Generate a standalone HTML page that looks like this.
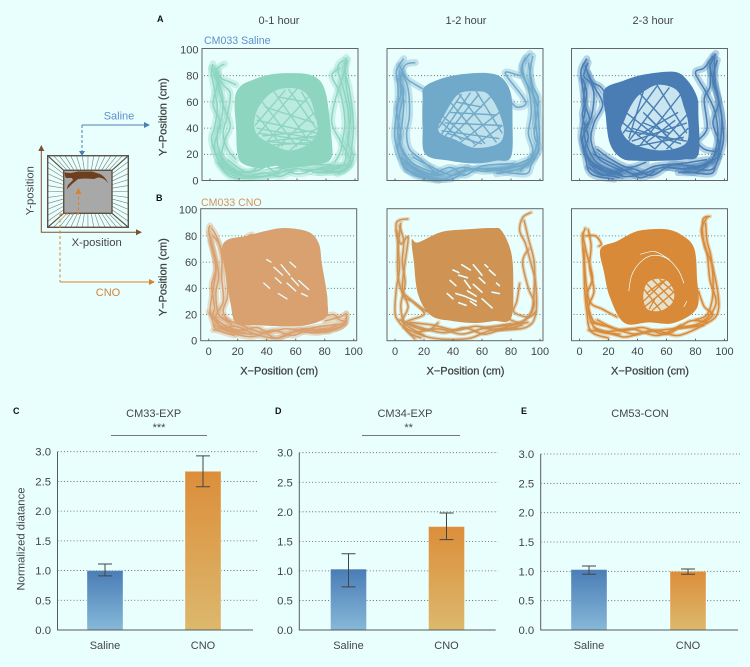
<!DOCTYPE html>
<html lang="en">
<head>
<meta charset="utf-8">
<title>CM033 locomotion traces and normalized distance</title>
<style>
html,body{margin:0;padding:0;background:#e9fffe;}
svg{display:block;}
text{font-family:"Liberation Sans",sans-serif;fill:#454545;}
</style>
</head>
<body>
<svg id="fig" xmlns="http://www.w3.org/2000/svg" width="750" height="667" viewBox="0 0 750 667">
<defs>
<linearGradient id="gradSaline" x1="0" y1="0" x2="0" y2="1"><stop offset="0" stop-color="#4a7db5"/><stop offset="1" stop-color="#86b8d9"/></linearGradient>
<linearGradient id="gradCno" x1="0" y1="0" x2="0" y2="1"><stop offset="0" stop-color="#dc8e3a"/><stop offset="1" stop-color="#dcb86d"/></linearGradient>
<filter id="soften" x="-5%" y="-5%" width="110%" height="110%"><feGaussianBlur stdDeviation="0.35"/></filter>
</defs>
<rect width="750" height="667" fill="#e9fffe"/>

<g font-weight="bold">
<text x="157" y="22" font-size="9" style="fill:#111">A</text>
<text x="156" y="201" font-size="9" style="fill:#111">B</text>
<text x="13" y="414" font-size="9" style="fill:#111">C</text>
<text x="275" y="414" font-size="9" style="fill:#111">D</text>
<text x="521" y="414" font-size="9" style="fill:#111">E</text>
</g>

<text x="279" y="24" font-size="11" text-anchor="middle">0-1 hour</text>
<text x="466" y="24" font-size="11" text-anchor="middle">1-2 hour</text>
<text x="653" y="24" font-size="11" text-anchor="middle">2-3 hour</text>
<text x="204" y="44" font-size="10.6" style="fill:#5c90c8">CM033 Saline</text>
<text x="201" y="206" font-size="10.6" style="fill:#d4935a">CM033 CNO</text>

<g id="schematic">
<rect x="63.7" y="170.3" width="48.3" height="43" fill="#a8a8a8"/>
<g id="spokes"></g>
<rect x="47.7" y="155.7" width="80.6" height="71.6" fill="none" stroke="#5d5345" stroke-width="1.4"/>
<rect x="63.7" y="170.3" width="48.3" height="43" fill="none" stroke="#5d5345" stroke-width="1.4"/>
<path fill="#6e3f1f" d="M64.5 172.5 L71 173 L78 171.5 L92 171.5 L100 174 C104 176 106 179 109 184 C105 179 102 177.5 98 177.5 L94 179 L85 178.5 L78 179 L72 184 L66.5 189.5 L68 185 L73 180 L72 178 L66 178 L65 176 Z"/>
<path d="M41.3 146 V232.3 H137" fill="none" stroke="#7a5230" stroke-width="1"/>
<path d="M41.3 145 l-3 6 h6 Z" fill="#7a5230"/>
<path d="M142 232.3 l-6 -3 v6 Z" fill="#7a5230"/>
<text transform="translate(33.5 190.7) rotate(-90)" font-size="11.3" text-anchor="middle">Y-position</text>
<text x="96.7" y="246" font-size="11.3" text-anchor="middle">X-position</text>
<path d="M82 125 H145" fill="none" stroke="#4a7fb0" stroke-width="1"/>
<path d="M150 125 l-6 -3 v6 Z" fill="#4a7fb0"/>
<path d="M82 125 V151" fill="none" stroke="#4a7fb0" stroke-width="1" stroke-dasharray="3 2"/>
<path d="M82 156 l-3 -5 h6 Z" fill="#4a7fb0"/>
<text x="119" y="119.5" font-size="11" text-anchor="middle" style="fill:#5c90c8">Saline</text>
<path d="M60 214 V282 M60 214 H78.5 V194" fill="none" stroke="#d9822b" stroke-width="1" stroke-dasharray="3 2.5"/>
<path d="M78.5 188 l-3 6 h6 Z" fill="#d9822b"/>
<path d="M60 282 H150" fill="none" stroke="#d9822b" stroke-width="1"/>
<path d="M155 282 l-6 -3 v6 Z" fill="#d9822b"/>
<text x="108" y="296" font-size="11" text-anchor="middle" style="fill:#d4823a">CNO</text>
</g>

<g id="traces"></g>
<g id="bars"></g>
</svg>

<script>
/* ---------- trajectory panels: values in cm ---------- */
const xTickLabels = [0, 20, 40, 60, 80, 100];
const yTickLabels = [0, 20, 40, 60, 80, 100];
const gridValues = [20, 40, 60, 80];

const a1Ring = [[17,62],[21,72],[30,77],[42,81],[55,82],[68,81],[76,76],[80,66],[82,52],[84,30],[84,18],[78,13],[60,10],[40,9],[24,12],[19,20],[18,40]];
const a1Hole = [[31,48],[36,60],[46,69],[60,70],[68,64],[72,52],[74,38],[68,28],[55,23],[42,28],[32,36]];
const a1Gaps = [[[36,9],[42,10],[47,11]],[[58,6],[70,6]]];
const a1Cross = [[[31,42],[52,69]],[[32,34],[60,70]],[[38,28],[68,64]],[[46,25],[72,52]],[[55,23],[74,40]],[[32,50],[50,26]],[[36,60],[60,26]],[[44,68],[68,30]],[[54,70],[73,40]],[[63,68],[74,46]],[[32,40],[72,32]],[[32,46],[74,36]],[[34,36],[70,30]],[[38,56],[72,44]],[[40,30],[74,34]],[[35,30],[72,27]],[[42,27],[70,29]],[[36,34],[72,38]],[[46,64],[66,60]]];
const a1Strands = [
 [[2,89],[1,82],[3,70],[5,55],[3,40],[1,32],[4,20],[10,8],[18,3]],
 [[10,89],[4,84],[7,72],[9,60],[8,48],[5,36],[6,24],[12,12],[22,5]],
 [[4,80],[10,72],[14,66],[12,50],[9,36],[12,24],[18,16]],
 [[3,86],[8,78],[12,76],[18,73]],
 [[6,84],[6,70],[10,55],[14,42],[10,30],[8,16],[16,8]],
 [[1,86],[5,74],[2,58],[7,44],[3,26],[8,12],[20,4]],
 [[94,94],[93,84],[96,70],[98,55],[99,41],[98,28],[96,14],[90,7],[75,6]],
 [[92,92],[88,86],[92,70],[95,55],[96,38],[94,24],[92,12],[80,9],[65,8]],
 [[90,86],[84,80],[90,66],[93,46],[92,34],[90,22],[86,14]],
 [[95,92],[90,74],[86,60],[84,44],[90,30],[95,20],[97,12],[88,5]],
 [[93,90],[94,72],[97,50],[95,30],[99,18],[92,7],[78,8]],
 [[8,14],[20,5],[35,3],[48,6],[60,9],[75,6],[90,10]],
 [[6,20],[16,8],[30,7],[45,12],[60,5],[78,10],[96,12]],
 [[5,14],[14,3],[28,2],[42,4],[52,10],[66,12],[84,12]],
 [[10,10],[24,3],[38,6],[48,3],[58,8]],
 [[12,16],[26,6],[36,12],[46,5]]
];

const a2Ring = [[19,62],[20,71],[30,77],[45,81],[64,82],[74,78],[80,66],[81,44],[80,18],[70,15],[55,13],[38,15],[21,20],[19,40]];
const a2Hole = [[30,38],[35,52],[44,66],[56,68],[64,66],[71,54],[75,38],[71,28],[55,25],[42,31]];
const a2Gaps = [];
const a2Cross = [[[30,40],[46,66]],[[32,35],[52,67]],[[34,33],[58,66]],[[38,32],[66,64]],[[45,29],[72,52]],[[54,26],[74,42]],[[30,46],[46,31]],[[32,50],[55,28]],[[38,60],[62,28]],[[44,66],[70,29]],[[56,68],[74,36]],[[32,38],[72,32]],[[34,44],[74,42]],[[38,52],[70,50]],[[36,36],[60,28]],[[42,60],[60,56]]];
const a2Strands = [
 [[6,93],[1,84],[2,72],[2,59],[0,42],[0,31],[4,16],[8,8],[22,2]],
 [[14,90],[7,88],[4,76],[6,60],[5,44],[3,30],[7,18],[14,8],[28,1]],
 [[3,88],[8,78],[13,74],[19,70]],
 [[5,82],[9,70],[10,50],[8,36],[10,24],[18,16],[28,6]],
 [[2,78],[6,68],[3,50],[2,36],[6,22],[14,12],[32,4]],
 [[3,84],[4,66],[1,55],[4,34],[2,22],[12,5],[30,0]],
 [[93,97],[88,88],[90,76],[96,64],[99,50],[99,25],[94,12],[90,5],[72,7]],
 [[95,95],[93,80],[96,62],[97,44],[98,28],[92,14],[80,10],[62,9]],
 [[90,94],[87,84],[92,70],[94,52],[92,36],[95,22],[88,10],[70,5]],
 [[86,80],[76,82],[88,64],[90,58],[84,56],[80,60]],
 [[92,90],[95,72],[99,61],[96,36],[99,22],[86,7]],
 [[6,14],[18,6],[32,1],[44,6],[56,9],[72,8],[92,13]],
 [[4,18],[14,9],[30,4],[46,10],[62,7],[80,11],[96,18]],
 [[10,12],[24,5],[38,10],[48,4],[60,11],[82,13]],
 [[8,8],[24,2],[38,1],[46,5]],
 [[12,18],[26,10],[40,4],[50,10]]
];

const a3Ring = [[17,69],[30,76],[45,81],[65,83],[74,77],[81,64],[82,50],[82,20],[72,16],[56,15],[40,15],[29,17],[21,28],[18,50]];
const a3Hole = [[29,38],[31,46],[36,58],[42,66],[54,73],[67,69],[72,56],[75,43],[73,28],[56,23],[37,28]];
const a3Gaps = [];
const a3Cross = [[[30,36],[54,73]],[[34,32],[44,68]],[[34,30],[62,71]],[[42,27],[70,66]],[[52,24],[74,50]],[[60,24],[75,40]],[[30,44],[52,24]],[[32,52],[64,24]],[[42,66],[72,30]],[[54,72],[74,36]],[[36,30],[74,44]],[[38,26],[72,33]],[[32,38],[74,30]],[[40,34],[68,52]],[[46,29],[66,46]],[[44,44],[62,36]],[[46,50],[64,30]],[[44,52],[60,34]],[[36,40],[70,28]]];
const a3Strands = [
 [[5,93],[1,84],[2,72],[4,56],[2,42],[1,33],[4,18],[8,5],[24,1]],
 [[6,90],[3,80],[8,74],[10,64],[8,48],[3,38],[7,22],[14,12],[30,4]],
 [[4,88],[8,76],[14,72],[17,68]],
 [[2,78],[5,66],[2,50],[6,34],[4,22],[12,7],[28,2]],
 [[6,82],[10,72],[16,58],[10,44],[8,30],[14,16],[28,8]],
 [[4,74],[3,60],[7,46],[2,30],[10,12],[24,6]],
 [[94,97],[90,86],[94,72],[97,56],[99,40],[99,28],[94,12],[90,5],[72,7]],
 [[92,95],[86,86],[80,82],[88,66],[94,50],[95,30],[90,14],[76,9],[60,10]],
 [[95,92],[92,76],[96,60],[92,44],[96,26],[84,8],[68,6]],
 [[90,90],[90,72],[86,62],[88,40],[82,30],[86,24],[94,22]],
 [[93,94],[94,70],[98,50],[97,28],[92,9],[74,10]],
 [[6,16],[18,8],[32,3],[46,6],[58,10],[74,9],[92,14]],
 [[8,12],[22,5],[36,9],[50,4],[64,12],[82,11],[96,18]],
 [[10,20],[24,12],[38,5],[52,11],[70,13],[88,16]],
 [[6,10],[16,4],[30,8],[42,2],[52,7]],
 [[12,24],[22,16],[34,10],[46,14]]
];

const b1Ring = [[9,69],[13,77],[26,80],[40,84],[53,86],[69,83],[76,74],[78,59],[81,40],[82,29],[81,18],[68,12],[51,11],[32,12],[19,13],[15,29],[12,50]];
const b1Hole = [];
const b1Gaps = [[[45,56],[51,50]],[[62,46],[69,39]],[[40,62],[43,60]],[[50,58],[56,50]],[[54,44],[60,38]],[[64,36],[68,34]],[[46,48],[50,44]],[[57,48],[62,42]],[[38,44],[42,40]],[[48,36],[54,32]],[[56,60],[60,56]]];
const b1Cross = [];
const b1Strands = [
 [[1,88],[0,84],[3,70],[5,55],[3,39],[1,24],[3,14],[6,8],[18,4]],
 [[2,86],[6,78],[9,64],[9,48],[10,30],[5,18],[12,8],[30,5]],
 [[0,82],[4,66],[7,50],[5,36],[7,20],[14,14]],
 [[3,80],[8,72],[12,52],[13,34],[10,22],[16,12]],
 [[1,76],[5,56],[2,42],[4,26],[3,18],[10,10],[24,6]],
 [[0,22],[8,14],[20,8],[34,10],[46,2],[60,7],[76,6],[88,12]],
 [[4,12],[16,6],[30,3],[44,8],[58,4],[72,10],[94,13]],
 [[8,18],[22,12],[38,6],[52,9],[66,8],[82,7],[94,13],[95,21]],
 [[3,8],[18,11],[32,5],[48,2],[64,9],[83,7]],
 [[78,18],[86,20],[90,16],[94,14],[88,9],[76,9]],
 [[80,15],[90,18],[95,20],[92,11],[80,8]],
 [[27,80],[30,81],[26,77]]
];

const b2Ring = [[11.5,77],[16,75],[32,83],[50,85],[67,86],[73.5,84],[80,68],[81.6,45],[80,17],[68,15],[55,13.5],[40,15],[25,19],[16,35],[13,60]];
const b2Hole = [];
const b2Gaps = [[[44,29],[49,27]],[[54,43],[60,37]],[[60,32],[67,25]],[[67,37],[72,36]],[[46,58],[52,54]],[[65,54],[69,50]],[[38,46],[42,42]],[[48,46],[52,40]],[[42,36],[48,34]],[[58,48],[62,44]],[[40,54],[44,52]],[[52,30],[56,27]],[[62,58],[64,56]],[[70,44],[72,42]],[[36,36],[40,32]],[[54,58],[60,50]],[[48,34],[56,30]],[[44,50],[50,48]],[[50,38],[56,34]]];
const b2Cross = [];
const b2Strands = [
 [[9,93],[1,90],[2,73],[3,55],[1,40],[0,22],[3,14],[14,1]],
 [[3,88],[6,76],[5,60],[7,44],[4,26],[8,8],[18,2]],
 [[1,84],[4,74],[9,79],[7,60],[5,40],[9,26],[6,14],[20,4]],
 [[4,90],[2,70],[2,50],[6,34],[12,30],[22,22]],
 [[6,36],[14,28],[20,20],[8,14],[22,8],[30,14]],
 [[94,98],[88,94],[86,84],[90,74],[94,58],[97,44],[97,20],[90,10],[70,8]],
 [[89,92],[92,78],[96,60],[96,40],[94,22],[86,14],[76,18]],
 [[92,70],[88,60],[92,40],[96,28],[90,16],[78,12],[60,10]],
 [[86,44],[84,30],[82,22],[92,18],[97,22]],
 [[3,16],[18,10],[34,6],[48,10],[62,5],[78,11],[92,14]],
 [[6,10],[22,3],[36,1],[52,2],[66,8],[84,10]],
 [[10,14],[26,12],[42,8],[56,11],[72,8],[88,12]],
 [[14,6],[30,9],[46,5],[60,9],[80,13]]
];

const b3Ring = [[14.5,70],[26,76],[38,83],[49,85],[60,85],[70,81],[79,71],[81,48],[81,25],[65,13.5],[48,14],[31,13.5],[21,33],[17,52]];
const b3Hole = [[44,33],[46,43],[52,47],[60,46],[65,38],[64,29],[56,23],[47,24]];
const b3Gaps = [[[34,38],[36,50],[42,60],[50,65],[60,63],[68,54],[72,44]],[[42,66],[52,68],[62,62]],[[74,30],[72,26]]];
const b3Cross = [[[44,40],[56,23]],[[46,44],[62,25]],[[50,47],[65,30]],[[55,47],[66,36]],[[44,30],[60,47]],[[45,26],[65,44]],[[50,23],[66,38]],[[46,36],[58,46]],[[48,24],[52,32]]];
const b3Strands = [
 [[4,86],[2,78],[3,61],[3.5,40],[5,22],[8,7],[20,2]],
 [[6,85],[8,72],[7,56],[10,38],[6,24],[12,8],[28,5]],
 [[2,82],[5,66],[9,48],[5,34],[9,16],[16,12]],
 [[4,80],[11,80],[15,74],[13,72]],
 [[3,70],[4,50],[7,30],[16,24],[26,18]],
 [[90,95],[85,92],[86,73],[92,56],[96,25],[88,13.5],[70,10]],
 [[88,94],[84,84],[88,66],[90,46],[94,28],[84,14],[66,9]],
 [[87,90],[88,76],[91,62],[92,36],[88,20],[80,16]],
 [[82,38],[86,26],[92,20],[86,14]],
 [[8,14],[22,10],[38,5],[52,8],[68,4],[86,12]],
 [[10,10],[26,4],[33,3],[48,7],[64,9],[82,11]],
 [[12,16],[28,8],[44,10],[60,5],[76,15],[88,14]],
 [[6,8],[20,7],[36,9],[54,4],[70,12]]
];

/* ---------- bar charts: values read against the gridlines ---------- */
const barCategories = ['Saline', 'CNO'];
const barTickLabels = [0, 0.5, 1, 1.5, 2, 2.5, 3];
const cm33Means = [1.0, 2.67];
const cm33High = [1.11, 2.93];
const cm33Low = [0.91, 2.41];
const cm34Means = [1.03, 1.75];
const cm34High = [1.29, 1.98];
const cm34Low = [0.73, 1.53];
const cm53Means = [1.03, 1.0];
const cm53High = [1.09, 1.04];
const cm53Low = [0.95, 0.95];

/* ---------- helpers ---------- */
const NS = 'http://www.w3.org/2000/svg';
function mk(parent, tag, name, attrs) {
  const el = document.createElementNS(NS, tag);
  
  
  for (const k in attrs) el.setAttribute(k, attrs[k]);
  parent.appendChild(el);
  return el;
}
function mkText(parent, name, attrs, str) {
  const el = mk(parent, 'text', name, attrs);
  el.textContent = str;
  return el;
}
/* Catmull-Rom smoothing of hand-read points */
function curve(points, closed) {
  const n = points.length;
  const at = i => closed ? points[(i + n) % n] : points[Math.max(0, Math.min(n - 1, i))];
  let d = 'M' + points[0][0].toFixed(1) + ' ' + points[0][1].toFixed(1);
  const last = closed ? n : n - 1;
  for (let i = 0; i < last; i++) {
    const p0 = at(i - 1), p1 = at(i), p2 = at(i + 1), p3 = at(i + 2);
    const c1 = [p1[0] + (p2[0] - p0[0]) / 6, p1[1] + (p2[1] - p0[1]) / 6];
    const c2 = [p2[0] - (p3[0] - p1[0]) / 6, p2[1] - (p3[1] - p1[1]) / 6];
    d += 'C' + c1[0].toFixed(1) + ' ' + c1[1].toFixed(1) + ' ' + c2[0].toFixed(1) + ' ' + c2[1].toFixed(1) + ' ' + p2[0].toFixed(1) + ' ' + p2[1].toFixed(1);
  }
  return closed ? d + 'Z' : d;
}

/* ---------- arena schematic spokes ---------- */
(function () {
  const g = document.getElementById('spokes');
  const ox0 = 47.7, ox1 = 128.3, oy0 = 155.7, oy1 = 227.3;
  const ix0 = 63.7, ix1 = 112, iy0 = 170.3, iy1 = 213.3;
  const nH = 14, nV = 12;
  let d = '';
  for (let i = 1; i < nH; i++) {
    const t = i / nH;
    d += 'M' + (ix0 + (ix1 - ix0) * t) + ' ' + iy0 + 'L' + (ox0 + (ox1 - ox0) * t) + ' ' + oy0;
    d += 'M' + (ix0 + (ix1 - ix0) * t) + ' ' + iy1 + 'L' + (ox0 + (ox1 - ox0) * t) + ' ' + oy1;
  }
  for (let i = 1; i < nV; i++) {
    const t = i / nV;
    d += 'M' + ix0 + ' ' + (iy0 + (iy1 - iy0) * t) + 'L' + ox0 + ' ' + (oy0 + (oy1 - oy0) * t);
    d += 'M' + ix1 + ' ' + (iy0 + (iy1 - iy0) * t) + 'L' + ox1 + ' ' + (oy0 + (oy1 - oy0) * t);
  }
  mk(g, 'path', 'arena-spoke-lines', { d: d, stroke: '#7d7d76', 'stroke-width': 0.6, fill: 'none' });
  const c = 'M' + ox0 + ' ' + oy0 + 'L' + ix0 + ' ' + iy0 + 'M' + ox1 + ' ' + oy0 + 'L' + ix1 + ' ' + iy0 + 'M' + ox0 + ' ' + oy1 + 'L' + ix0 + ' ' + iy1 + 'M' + ox1 + ' ' + oy1 + 'L' + ix1 + ' ' + iy1;
  mk(g, 'path', 'arena-corner-lines', { d: c, stroke: '#5d5345', 'stroke-width': 1.2, fill: 'none' });
})();

/* ---------- trajectory panels ---------- */
function drawTrace(cfg) {
  const root = document.getElementById('traces');
  const g = mk(root, 'g', cfg.name, {});
  const sx = v => cfg.x0 + v * 1.45;
  const sy = v => cfg.y0 - v * 1.31;
  const left = sx(0) - 8, right = left + 156;
  const bottom = sy(0), top = bottom - 132;
  const map = pts => pts.map(p => [sx(p[0]), sy(p[1])]);

  gridValues.forEach(v => {
    mk(g, 'line', 'grid-line-y-' + v, { x1: left + 2, x2: right - 2, y1: sy(v), y2: sy(v), stroke: '#555', 'stroke-width': 0.8, 'stroke-dasharray': '1 2.2' });
  });

  const ink = mk(g, 'g', 'trajectory-ink', { filter: 'url(#soften)' });
  cfg.strands.forEach(s => {
    mk(ink, 'path', 'trajectory-band', { d: curve(map(s), false), fill: 'none', stroke: cfg.color, 'stroke-width': cfg.bandWidth, 'stroke-opacity': 0.34, 'stroke-linejoin': 'round', 'stroke-linecap': 'round' });
  });
  mk(ink, 'path', 'trajectory-ring', { d: curve(map(cfg.ring), true), fill: cfg.color });
  if (cfg.hole.length) {
    mk(ink, 'path', 'trajectory-center-gap', { d: curve(map(cfg.hole), true), fill: '#e9fffe' });
    mk(ink, 'path', 'trajectory-center-tone', { d: curve(map(cfg.hole), true), fill: cfg.color, 'fill-opacity': cfg.holeTone });
  }
  cfg.gaps.forEach(s => {
    mk(ink, 'path', 'trajectory-gap', { d: curve(map(s), false), fill: 'none', stroke: '#e9fffe', 'stroke-width': cfg.gapWidth, 'stroke-linecap': 'round' });
  });
  cfg.cross.forEach(s => {
    mk(ink, 'path', 'trajectory-center-crossing', { d: curve(map(s), false), fill: 'none', stroke: cfg.color, 'stroke-width': 1.4 });
  });
  cfg.strands.forEach(s => {
    mk(ink, 'path', 'trajectory-strand', { d: curve(map(s), false), fill: 'none', stroke: cfg.color, 'stroke-width': 1.5, 'stroke-linejoin': 'round' });
  });

  mk(g, 'rect', 'plot-frame', { x: left, y: top, width: right - left, height: bottom - top, fill: 'none', stroke: '#666', 'stroke-width': 1 });
  xTickLabels.forEach(v => {
    mk(g, 'line', 'x-tick-' + v, { x1: sx(v), x2: sx(v), y1: bottom, y2: bottom - 2, stroke: '#666', 'stroke-width': 1 });
  });
  if (cfg.showX) {
    xTickLabels.forEach(v => {
      mkText(g, 'x-tick-label-' + v, { x: sx(v), y: bottom + 14.5, 'font-size': 11, 'text-anchor': 'middle' }, String(v));
    });
    mkText(g, 'x-axis-title', { x: sx(0) + 70.5, y: bottom + 34, 'font-size': 11, 'text-anchor': 'middle', stroke: '#333', 'stroke-width': 0.25 }, 'X\u2212Position (cm)');
  }
  if (cfg.showY) {
    yTickLabels.forEach(v => {
      mkText(g, 'y-tick-label-' + v, { x: left - 3.5, y: sy(v) + 3.9, 'font-size': 11, 'text-anchor': 'end' }, String(v));
    });
    mkText(g, 'y-axis-title', { transform: 'translate(166.5 ' + (bottom - 63.5) + ') rotate(-90)', 'font-size': 11, 'text-anchor': 'middle', stroke: '#333', 'stroke-width': 0.25 }, 'Y\u2212Position (cm)');
  }
}
drawTrace({ name: 'trace-saline-0-1h', x0: 210, y0: 180.5, color: '#8ed5c0', ring: a1Ring, hole: a1Hole, gaps: a1Gaps, cross: a1Cross, strands: a1Strands, gapWidth: 1.3, holeTone: 0.5, bandWidth: 7, showX: false, showY: true });
drawTrace({ name: 'trace-saline-1-2h', x0: 395, y0: 180.5, color: '#70a9c9', ring: a2Ring, hole: a2Hole, gaps: a2Gaps, cross: a2Cross, strands: a2Strands, gapWidth: 1.3, holeTone: 0.35, bandWidth: 7, showX: false, showY: false });
drawTrace({ name: 'trace-saline-2-3h', x0: 579.5, y0: 180.5, color: '#4a7db3', ring: a3Ring, hole: a3Hole, gaps: a3Gaps, cross: a3Cross, strands: a3Strands, gapWidth: 1.3, holeTone: 0.2, bandWidth: 7, showX: false, showY: false });
drawTrace({ name: 'trace-cno-0-1h', x0: 208.7, y0: 340.7, color: '#d9a070', ring: b1Ring, hole: b1Hole, gaps: b1Gaps, cross: b1Cross, strands: b1Strands, gapWidth: 1.3, holeTone: 0, bandWidth: 6, showX: true, showY: true });
drawTrace({ name: 'trace-cno-1-2h', x0: 395, y0: 340.7, color: '#cf9352', ring: b2Ring, hole: b2Hole, gaps: b2Gaps, cross: b2Cross, strands: b2Strands, gapWidth: 1.6, holeTone: 0, bandWidth: 4, showX: true, showY: false });
drawTrace({ name: 'trace-cno-2-3h', x0: 579.5, y0: 340.7, color: '#d88a38', ring: b3Ring, hole: b3Hole, gaps: b3Gaps, cross: b3Cross, strands: b3Strands, gapWidth: 0.7, holeTone: 0.25, bandWidth: 4, showX: true, showY: false });

/* ---------- bar charts ---------- */
function drawBars(cfg) {
  const root = document.getElementById('bars');
  const g = mk(root, 'g', cfg.name, {});
  const y = v => cfg.y0 - v * (cfg.y0 - cfg.y3) / 3;
  const barW = 36, capW = 14;

  barTickLabels.forEach(v => {
    if (v > 0) {
      mk(g, 'line', 'grid-line-' + v, { x1: cfg.axisX, x2: cfg.gridEnd, y1: y(v), y2: y(v), stroke: '#555', 'stroke-width': 0.8, 'stroke-dasharray': '1 2.2' });
    }
    mkText(g, 'y-tick-label-' + v, { x: cfg.axisX - 6.5, y: y(v) + 4, 'font-size': 11.3, 'text-anchor': 'end' }, v.toFixed(1));
  });

  barCategories.forEach((cat, i) => {
    const cx = cfg.centers[i];
    const top = y(cfg.means[i]);
    mk(g, 'rect', 'bar-' + cat.toLowerCase(), { x: cx - barW / 2, y: top, width: barW, height: y(0) - top, fill: i === 0 ? 'url(#gradSaline)' : 'url(#gradCno)', stroke: 'rgba(255,255,255,0.35)', 'stroke-width': 1 });
    const hi = y(cfg.high[i]), lo = y(cfg.low[i]);
    mk(g, 'path', 'error-bar-' + cat.toLowerCase(), { d: 'M' + (cx - capW / 2) + ' ' + hi + 'H' + (cx + capW / 2) + 'M' + cx + ' ' + hi + 'V' + lo + 'M' + (cx - capW / 2) + ' ' + lo + 'H' + (cx + capW / 2), fill: 'none', stroke: '#444', 'stroke-width': 1 });
    mkText(g, 'category-label-' + cat.toLowerCase(), { x: cx, y: 649, 'font-size': 11, 'text-anchor': 'middle' }, cat);
  });

  mk(g, 'path', 'bar-axes', { d: 'M' + cfg.axisX + ' ' + cfg.y3 + 'V' + cfg.y0 + 'H' + cfg.axisEnd, fill: 'none', stroke: '#5a5a5a', 'stroke-width': 1 });
  mkText(g, 'bar-chart-title', { x: cfg.titleX, y: 417, 'font-size': 11, 'text-anchor': 'middle' }, cfg.title);
  if (cfg.stars) {
    mkText(g, 'significance-stars', { x: cfg.starX, y: 431, 'font-size': 11, 'text-anchor': 'middle' }, cfg.stars);
    mk(g, 'line', 'significance-bracket', { x1: cfg.lineFrom, x2: cfg.lineTo, y1: 435.5, y2: 435.5, stroke: '#777', 'stroke-width': 1 });
  }
}
drawBars({ name: 'chart-cm33-exp', title: 'CM33-EXP', stars: '***', titleX: 153.7, starX: 159, lineFrom: 111, lineTo: 207, axisX: 57.5, axisEnd: 253, gridEnd: 257, y0: 630, y3: 451.7, centers: [105, 203], means: cm33Means, high: cm33High, low: cm33Low });
drawBars({ name: 'chart-cm34-exp', title: 'CM34-EXP', stars: '**', titleX: 405, starX: 408.7, lineFrom: 362, lineTo: 460, axisX: 299.3, axisEnd: 495.7, gridEnd: 498, y0: 630, y3: 452.7, centers: [348.5, 446.5], means: cm34Means, high: cm34High, low: cm34Low });
drawBars({ name: 'chart-cm53-con', title: 'CM53-CON', stars: '', titleX: 640, axisX: 540.7, axisEnd: 738, gridEnd: 740, y0: 630, y3: 454, centers: [589, 688], means: cm53Means, high: cm53High, low: cm53Low });
mkText(document.getElementById('bars'), 'y-axis-title-normalized-distance', { transform: 'translate(24.5 539) rotate(-90)', 'font-size': 11.3, 'text-anchor': 'middle' }, 'Normalized diatance');
</script>
</body>
</html>
